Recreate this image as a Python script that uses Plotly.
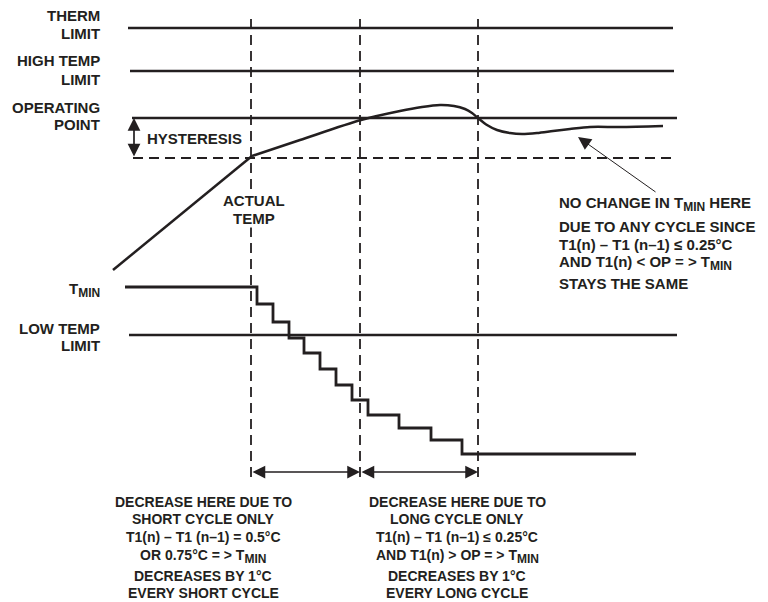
import plotly.graph_objects as go

# ---------------- data (diagram units: x = time, y = temperature level) ----------------
limit_names = ["THERM", "HIGH TEMP", "OPERATING POINT", "LOW TEMP"]
limit_levels = [574, 531, 484, 267]
limit_x_start = [128, 130, 132, 129]
limit_x_end = [673, 674, 677, 677]

hyst_level = 444
hyst_x = [133, 677]

cycle_bounds_x = [251, 360, 478]
cycle_bounds_y = [125, 589]

actual_temp_x1 = [113, 252]
actual_temp_y1 = [332, 446]
actual_temp_x2 = [252, 300, 361, 400, 422, 440, 454, 465, 472, 478, 487, 497, 510, 522, 537, 553, 570, 590, 620, 663]
actual_temp_y2 = [446, 462, 482, 491, 495, 497, 496, 493, 489, 484, 477, 472, 469, 468, 469, 471, 473, 475, 475, 476]

tmin_x = [125, 257, 273, 289, 304, 320, 336, 352, 368, 399, 431, 462, 636]
tmin_y = [315, 298, 280, 264, 249, 233, 217, 202, 187, 174, 162, 148, 148]

SUB = "<sub><span style='font-size:12px'>MIN</span></sub>"
left_labels = [
    ("THERM", 587), ("LIMIT", 569),
    ("HIGH TEMP", 542), ("LIMIT", 523),
    ("OPERATING", 495), ("POINT", 478),
    ("T" + SUB, 312),
    ("LOW TEMP", 274), ("LIMIT", 257),
]
right_note = [
    "NO CHANGE IN T" + SUB + " HERE",
    "DUE TO ANY CYCLE SINCE",
    "T1(n) – T1 (n–1) ≤ 0.25°C",
    "AND T1(n) < OP = > T" + SUB,
    "STAYS THE SAME",
]
right_note_y = [398, 376, 358, 339, 319]
bottom_left = [
    "DECREASE HERE DUE TO",
    "SHORT CYCLE ONLY",
    "T1(n) – T1 (n–1) = 0.5°C",
    "OR 0.75°C = > T" + SUB,
    "DECREASES BY 1°C",
    "EVERY SHORT CYCLE",
]
bottom_right = [
    "DECREASE HERE DUE TO",
    "LONG CYCLE ONLY",
    "T1(n) – T1 (n–1) ≤ 0.25°C",
    "AND T1(n) > OP = > T" + SUB,
    "DECREASES BY 1°C",
    "EVERY LONG CYCLE",
]
bottom_y = [100, 83, 65, 46, 26, 9]

INK = "#231f20"
FONT = dict(family="Liberation Sans, Arial, sans-serif", size=15, color=INK)
FONT_B = dict(family="Liberation Sans, Arial, sans-serif", size=14, color=INK)

fig = go.Figure()

for lvl, x0, x1 in zip(limit_levels, limit_x_start, limit_x_end):
    fig.add_trace(go.Scatter(x=[x0, x1], y=[lvl, lvl], mode="lines",
                             line=dict(color=INK, width=2.5), hoverinfo="skip"))

fig.add_trace(go.Scatter(x=hyst_x, y=[hyst_level, hyst_level], mode="lines",
                         line=dict(color=INK, width=2, dash="10px,6px"), hoverinfo="skip"))

for bx in cycle_bounds_x:
    fig.add_trace(go.Scatter(x=[bx, bx], y=cycle_bounds_y, mode="lines",
                             line=dict(color=INK, width=1.8, dash="10px,6px"), hoverinfo="skip"))

fig.add_trace(go.Scatter(x=actual_temp_x1, y=actual_temp_y1, mode="lines",
                         line=dict(color=INK, width=2.5), hoverinfo="skip"))
fig.add_trace(go.Scatter(x=actual_temp_x2, y=actual_temp_y2, mode="lines",
                         line=dict(color=INK, width=2.5, shape="spline", smoothing=0.8),
                         hoverinfo="skip"))

fig.add_trace(go.Scatter(x=tmin_x, y=tmin_y, mode="lines",
                         line=dict(color=INK, width=2.8, shape="hv"), hoverinfo="skip"))

ann = []
for txt, yy in left_labels:
    ann.append(dict(x=102, y=yy, text="<b>%s</b>" % txt, showarrow=False,
                    xanchor="right", yanchor="middle", font=FONT))
ann.append(dict(x=145, y=464, text="<b>HYSTERESIS</b>", showarrow=False,
                xanchor="left", yanchor="middle", font=FONT))
ann.append(dict(x=254, y=402, text="<b>ACTUAL</b>", showarrow=False, bgcolor="white",
                borderpad=0, xanchor="center", yanchor="middle", font=FONT))
ann.append(dict(x=254, y=384, text="<b>TEMP</b>", showarrow=False, bgcolor="white",
                borderpad=0, xanchor="center", yanchor="middle", font=FONT))
for txt, yy in zip(right_note, right_note_y):
    ann.append(dict(x=557, y=yy, text="<b>%s</b>" % txt, showarrow=False,
                    xanchor="left", yanchor="middle", font=FONT))
for txt, yy in zip(bottom_left, bottom_y):
    ann.append(dict(x=203, y=yy, text="<b>%s</b>" % txt, showarrow=False,
                    xanchor="center", yanchor="middle", font=FONT_B))
for txt, yy in zip(bottom_right, bottom_y):
    ann.append(dict(x=457, y=yy, text="<b>%s</b>" % txt, showarrow=False,
                    xanchor="center", yanchor="middle", font=FONT_B))

# arrows
arrow_common = dict(text="", showarrow=True, xref="x", yref="y", axref="x", ayref="y",
                    arrowcolor=INK, arrowhead=2, arrowsize=1.5, arrowwidth=1.7,
                    arrowside="end+start", standoff=0, startstandoff=0)
ann.append(dict(x=134, y=limit_levels[2], ax=134, ay=hyst_level, **arrow_common))
ann.append(dict(x=cycle_bounds_x[1], y=130, ax=cycle_bounds_x[0], ay=130, **arrow_common))
ann.append(dict(x=cycle_bounds_x[2], y=130, ax=cycle_bounds_x[1], ay=130, **arrow_common))
ann.append(dict(x=578, y=465, ax=657, ay=409, text="", showarrow=True, xref="x", yref="y",
                axref="x", ayref="y", arrowcolor=INK, arrowhead=2, arrowsize=2.6,
                arrowwidth=1, standoff=0))

fig.update_layout(
    width=768, height=602,
    margin=dict(l=0, r=0, t=0, b=0),
    paper_bgcolor="white", plot_bgcolor="white",
    showlegend=False,
    xaxis=dict(range=[0, 768], visible=False, fixedrange=True),
    yaxis=dict(range=[0, 602], visible=False, fixedrange=True),
    annotations=ann,
)

fig.write_html("out.html", config={"displayModeBar": False},
               post_script="document.body.style.margin='0';document.body.style.overflow='hidden';")
